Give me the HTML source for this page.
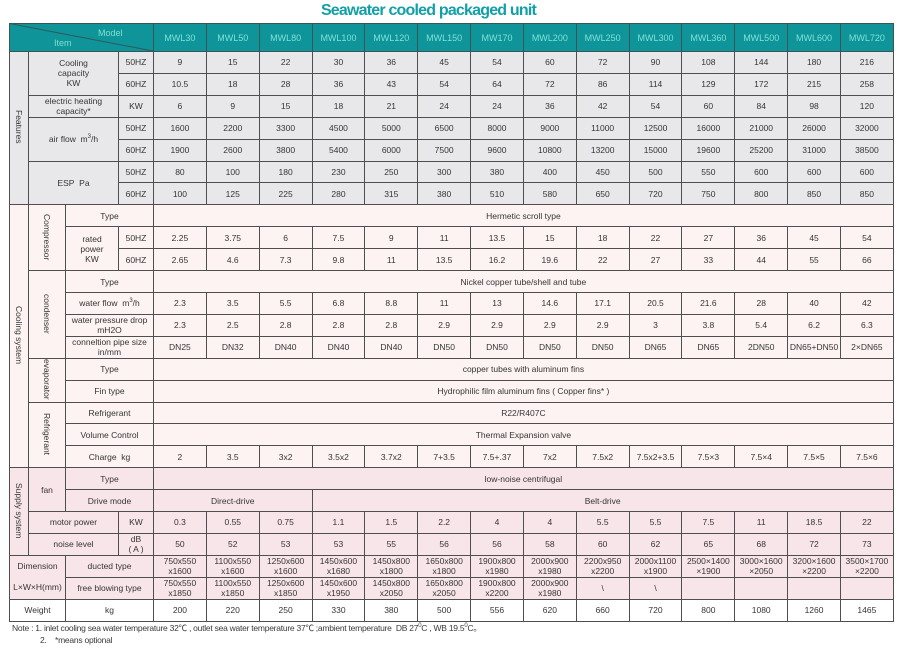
<!DOCTYPE html>
<html><head><meta charset="utf-8">
<style>
html,body{margin:0;padding:0}
body{width:904px;height:659px;background:#fff;position:relative;overflow:hidden;font-family:"Liberation Sans","Noto Sans CJK SC",sans-serif}
.title{position:absolute;left:0;width:857px;top:0;height:22px;line-height:22px;text-align:center;font-size:16px;font-weight:bold;letter-spacing:-0.8px;color:#12a0a8;padding-left:0}
table{position:absolute;left:9px;top:23px;width:884px;border-collapse:collapse;table-layout:fixed}
td{border:1px solid #4f4f4f;padding:0;text-align:center;vertical-align:middle;font-size:8.5px;line-height:10px;color:#353535;white-space:nowrap;overflow:hidden}
tr{height:21.92px}
tr.h{height:28px}
tr.h td{background:#0e9499;color:#7fe3da;font-size:9px;border-color:#3b5556}
.f td{background:#e8e8ea}
.c td{background:#fcf3f2}
.s td{background:#f8e5e9}
.w td{background:#fff}
.v{display:inline-block;writing-mode:vertical-rl;font-size:8.5px;line-height:10px}
.note{position:absolute;left:12px;font-size:8.5px;color:#3a3a3a;white-space:nowrap;line-height:11px;letter-spacing:-0.25px}
sup{font-size:6px;line-height:0;vertical-align:4px}
</style></head>
<body>
<div class="title">Seawater cooled packaged unit</div>
<table>
<colgroup>
<col style="width:19px"><col style="width:37px"><col style="width:53px"><col style="width:35px">
<col style="width:52.857px"><col style="width:52.857px"><col style="width:52.857px"><col style="width:52.857px"><col style="width:52.857px"><col style="width:52.857px"><col style="width:52.857px"><col style="width:52.857px"><col style="width:52.857px"><col style="width:52.857px"><col style="width:52.857px"><col style="width:52.857px"><col style="width:52.857px"><col style="width:52.857px">
</colgroup>
<tr class="h"><td colspan="4"></td><td>MWL30</td><td>MWL50</td><td>MWL80</td><td>MWL100</td><td>MWL120</td><td>MWL150</td><td>MW170</td><td>MWL200</td><td>MWL250</td><td>MWL300</td><td>MWL360</td><td>MWL500</td><td>MWL600</td><td>MWL720</td></tr>

<tr class="f"><td rowspan="7"><span class="v">Features</span></td><td colspan="2" rowspan="2">Cooling<br>capacity<br>KW</td><td>50HZ</td><td>9</td><td>15</td><td>22</td><td>30</td><td>36</td><td>45</td><td>54</td><td>60</td><td>72</td><td>90</td><td>108</td><td>144</td><td>180</td><td>216</td></tr>
<tr class="f"><td>60HZ</td><td>10.5</td><td>18</td><td>28</td><td>36</td><td>43</td><td>54</td><td>64</td><td>72</td><td>86</td><td>114</td><td>129</td><td>172</td><td>215</td><td>258</td></tr>
<tr class="f"><td colspan="2">electric heating<br>capacity*</td><td>KW</td><td>6</td><td>9</td><td>15</td><td>18</td><td>21</td><td>24</td><td>24</td><td>36</td><td>42</td><td>54</td><td>60</td><td>84</td><td>98</td><td>120</td></tr>
<tr class="f"><td colspan="2" rowspan="2">air flow&nbsp; m<sup>3</sup>/h</td><td>50HZ</td><td>1600</td><td>2200</td><td>3300</td><td>4500</td><td>5000</td><td>6500</td><td>8000</td><td>9000</td><td>11000</td><td>12500</td><td>16000</td><td>21000</td><td>26000</td><td>32000</td></tr>
<tr class="f"><td>60HZ</td><td>1900</td><td>2600</td><td>3800</td><td>5400</td><td>6000</td><td>7500</td><td>9600</td><td>10800</td><td>13200</td><td>15000</td><td>19600</td><td>25200</td><td>31000</td><td>38500</td></tr>
<tr class="f"><td colspan="2" rowspan="2">ESP&nbsp; Pa</td><td>50HZ</td><td>80</td><td>100</td><td>180</td><td>230</td><td>250</td><td>300</td><td>380</td><td>400</td><td>450</td><td>500</td><td>550</td><td>600</td><td>600</td><td>600</td></tr>
<tr class="f"><td>60HZ</td><td>100</td><td>125</td><td>225</td><td>280</td><td>315</td><td>380</td><td>510</td><td>580</td><td>650</td><td>720</td><td>750</td><td>800</td><td>850</td><td>850</td></tr>

<tr class="c"><td rowspan="12"><span class="v">Cooling system</span></td><td rowspan="3"><span class="v">Compressor</span></td><td colspan="2">Type</td><td colspan="14">Hermetic scroll type</td></tr>
<tr class="c"><td rowspan="2">rated<br>power<br>KW</td><td>50HZ</td><td>2.25</td><td>3.75</td><td>6</td><td>7.5</td><td>9</td><td>11</td><td>13.5</td><td>15</td><td>18</td><td>22</td><td>27</td><td>36</td><td>45</td><td>54</td></tr>
<tr class="c"><td>60HZ</td><td>2.65</td><td>4.6</td><td>7.3</td><td>9.8</td><td>11</td><td>13.5</td><td>16.2</td><td>19.6</td><td>22</td><td>27</td><td>33</td><td>44</td><td>55</td><td>66</td></tr>
<tr class="c"><td rowspan="4"><span class="v">condenser</span></td><td colspan="2">Type</td><td colspan="14">Nickel copper tube/shell and tube</td></tr>
<tr class="c"><td colspan="2">water flow&nbsp; m<sup>3</sup>/h</td><td>2.3</td><td>3.5</td><td>5.5</td><td>6.8</td><td>8.8</td><td>11</td><td>13</td><td>14.6</td><td>17.1</td><td>20.5</td><td>21.6</td><td>28</td><td>40</td><td>42</td></tr>
<tr class="c"><td colspan="2">water pressure drop<br>mH2O</td><td>2.3</td><td>2.5</td><td>2.8</td><td>2.8</td><td>2.8</td><td>2.9</td><td>2.9</td><td>2.9</td><td>2.9</td><td>3</td><td>3.8</td><td>5.4</td><td>6.2</td><td>6.3</td></tr>
<tr class="c"><td colspan="2">conneltion pipe size<br>in/mm</td><td>DN25</td><td>DN32</td><td>DN40</td><td>DN40</td><td>DN40</td><td>DN50</td><td>DN50</td><td>DN50</td><td>DN50</td><td>DN65</td><td>DN65</td><td>2DN50</td><td>DN65+DN50</td><td>2×DN65</td></tr>
<tr class="c"><td rowspan="2"><span class="v">evaporator</span></td><td colspan="2">Type</td><td colspan="14">copper tubes with aluminum fins</td></tr>
<tr class="c"><td colspan="2">Fin type</td><td colspan="14">Hydrophilic film aluminum fins ( Copper fins* )</td></tr>
<tr class="c"><td rowspan="3"><span class="v">Refrigerant</span></td><td colspan="2">Refrigerant</td><td colspan="14">R22/R407C</td></tr>
<tr class="c"><td colspan="2">Volume Control</td><td colspan="14">Thermal Expansion valve</td></tr>
<tr class="c"><td colspan="2">Charge&nbsp; kg</td><td>2</td><td>3.5</td><td>3x2</td><td>3.5x2</td><td>3.7x2</td><td>7+3.5</td><td>7.5+.37</td><td>7x2</td><td>7.5x2</td><td>7.5x2+3.5</td><td>7.5×3</td><td>7.5×4</td><td>7.5×5</td><td>7.5×6</td></tr>

<tr class="s"><td rowspan="4"><span class="v">Supply system</span></td><td rowspan="2">fan</td><td colspan="2">Type</td><td colspan="14">low-noise centrifugal</td></tr>
<tr class="s"><td colspan="2">Drive mode</td><td colspan="3">Direct-drive</td><td colspan="11">Belt-drive</td></tr>
<tr class="s"><td colspan="2">motor power</td><td>KW</td><td>0.3</td><td>0.55</td><td>0.75</td><td>1.1</td><td>1.5</td><td>2.2</td><td>4</td><td>4</td><td>5.5</td><td>5.5</td><td>7.5</td><td>11</td><td>18.5</td><td>22</td></tr>
<tr class="s"><td colspan="2">noise level</td><td>dB<br>( A )</td><td>50</td><td>52</td><td>53</td><td>53</td><td>55</td><td>56</td><td>56</td><td>58</td><td>60</td><td>62</td><td>65</td><td>68</td><td>72</td><td>73</td></tr>

<tr class="s"><td colspan="2" rowspan="2"><div style="line-height:21px">Dimension<br>L×W×H(mm)</div></td><td colspan="2">ducted type</td><td>750x550<br>x1600</td><td>1100x550<br>x1600</td><td>1250x600<br>x1600</td><td>1450x600<br>x1680</td><td>1450x800<br>x1800</td><td>1650x800<br>x1800</td><td>1900x800<br>x1980</td><td>2000x900<br>x1980</td><td>2200x950<br>x2200</td><td>2000x1100<br>x1900</td><td>2500×1400<br>×1900</td><td>3000×1600<br>×2050</td><td>3200×1600<br>×2200</td><td>3500×1700<br>×2200</td></tr>
<tr class="s"><td colspan="2">free blowing type</td><td>750x550<br>x1850</td><td>1100x550<br>x1850</td><td>1250x600<br>x1850</td><td>1450x600<br>x1950</td><td>1450x800<br>x2050</td><td>1650x800<br>x2050</td><td>1900x800<br>x2200</td><td>2000x900<br>x1980</td><td>\</td><td>\</td><td></td><td></td><td></td><td></td></tr>

<tr class="w"><td colspan="2">Weight</td><td colspan="2">kg</td><td>200</td><td>220</td><td>250</td><td>330</td><td>380</td><td>500</td><td>556</td><td>620</td><td>660</td><td>720</td><td>800</td><td>1080</td><td>1260</td><td>1465</td></tr>
</table>

<svg style="position:absolute;left:9px;top:23px" width="144" height="28">
<line x1="0.5" y1="0.5" x2="144" y2="28" stroke="#2f5a5b" stroke-width="1"/>
<text x="89" y="13" font-family="Liberation Sans, sans-serif" font-size="9" fill="#7fe3cc">Model</text>
<text x="45" y="23" font-family="Liberation Sans, sans-serif" font-size="9" fill="#7fe3cc">Item</text>
</svg>

<div class="note" style="top:623px">Note : 1. inlet cooling sea water temperature 32℃ , outlet sea water temperature 37℃ ;ambient temperature&nbsp; DB 27<sup>0</sup>C , WB 19.5<sup>0</sup>C。</div>
<div class="note" style="top:635px;left:40px">2.&nbsp;&nbsp;&nbsp; *means optional</div>
</body></html>
